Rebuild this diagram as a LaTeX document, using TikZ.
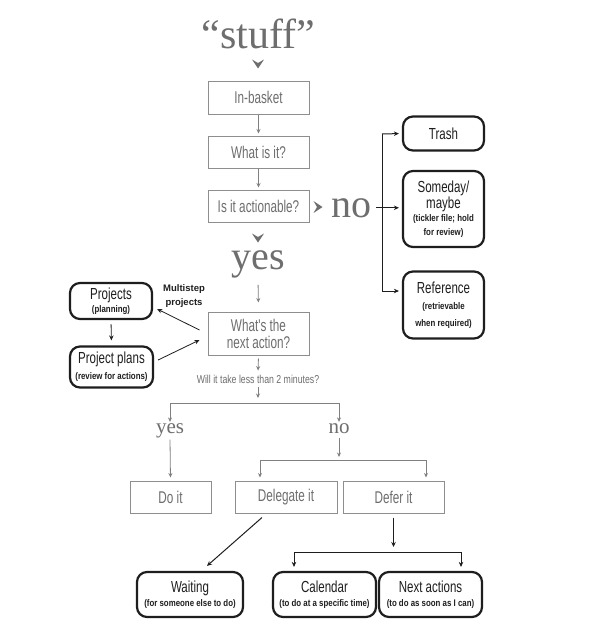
\documentclass[tikz,border=0pt]{standalone}
\usepackage{fontspec}
\setmainfont{Liberation Serif}
\newfontfamily\condf{Liberation Sans}[FakeStretch=0.69]
\newfontfamily\condr{Liberation Sans}[FakeStretch=0.72]
\newfontfamily\condb{Liberation Sans}[FakeStretch=0.82]
\newfontfamily\condw{Liberation Sans}[FakeStretch=0.76]
\newfontfamily\plainsans{Liberation Sans}
\usetikzlibrary{arrows.meta}
\definecolor{txtgray}{HTML}{6E6E6E}
\definecolor{boxgray}{HTML}{8E8E8E}
\definecolor{lngray}{HTML}{808080}
\definecolor{dark}{HTML}{1E1E1E}
\newcommand\subt[1]{{\condb\bfseries\fontsize{9.6}{10}\selectfont #1}}
\tikzset{
  gbox/.style={draw=boxgray, line width=1pt, text=txtgray, font=\condf\fontsize{17}{16}\selectfont, inner sep=0pt, align=center},
  rbox/.style={draw=dark, line width=2.2pt, rounded corners=10pt, text=dark, font=\condr\fontsize{16}{13}\selectfont, inner sep=0pt, align=center},
  garrow/.style={draw=lngray, line width=0.8pt, -{Stealth[length=4.5pt,width=4pt]}},
  gline/.style={draw=lngray, line width=0.8pt},
  barrow/.style={draw=dark, line width=1pt, -{Stealth[length=5pt,width=4.5pt]}},
  bline/.style={draw=dark, line width=1pt},
  bigserif/.style={text=txtgray, font=\fontsize{40}{40}\selectfont, inner sep=0pt},
  midserif/.style={text=txtgray, font=\fontsize{21}{21}\selectfont, inner sep=1pt},
  chevd/.pic={\fill[txtgray] (-6,-4.5) -- (0,-1) -- (6,-4.5) -- (0,4.5) -- cycle;},
  chevr/.pic={\fill[txtgray] (-4.5,-6) -- (-1,0) -- (-4.5,6) -- (4.5,0) -- cycle;},
}
\begin{document}
\begin{tikzpicture}[x=1pt,y=-1pt]
\useasboundingbox[fill=white] (0,0) rectangle (608,635);

% top serif words and chevrons
\node[bigserif, font=\fontsize{42}{42}\selectfont, anchor=base] (stuff) at (258.5,48) {“stuff”};
\pic at (258,64) {chevd};
\node[bigserif, anchor=base] (no) at (351,217) {no};
\pic at (318,207) {chevr};
\pic at (258,238) {chevd};
\node[bigserif, anchor=base] (yesbig) at (258,269) {yes};

% gray process boxes
\node[gbox, minimum width=101, minimum height=33] (inbasket) at (258.5,97.5) {In-basket};
\node[gbox, minimum width=101, minimum height=32] (what) at (258.5,152) {What is it?};
\node[gbox, minimum width=101, minimum height=32] (act) at (258.5,206) {Is it actionable?};
\node[gbox, minimum width=101, minimum height=43] (next) at (258.5,333.5) {What's the\\[1pt]next action?};
\node[gbox, minimum width=81, minimum height=32] (doit) at (170.5,497) {Do it};
\node[gbox, minimum width=102, minimum height=32] (deleg) at (286,497) {Delegate it};
\node[gbox, minimum width=101, minimum height=32] (defer) at (393.5,497) {Defer it};

% rounded outcome boxes
\node[rbox, minimum width=81, minimum height=34] (trash) at (443.5,133.5) {Trash};
\node[rbox, minimum width=81, minimum height=76] (someday) at (443.5,209) {Someday/\\maybe\\\subt{(tickler file; hold}\\[1pt]\subt{for review)}};
\node[rbox, minimum width=81, minimum height=67] (reference) at (443.5,305) {Reference\\[3pt]\subt{(retrievable}\\[4pt]\subt{when required)}};
\node[rbox, minimum width=82, minimum height=36] (projects) at (111,301) {Projects\\\subt{(planning)}};
\node[rbox, minimum width=83, minimum height=41] (plans) at (111.5,367) {Project plans\\[3pt]\subt{(review for actions)}};
\node[rbox, minimum width=106, minimum height=45] (waiting) at (190,594.5) {Waiting\\[1pt]\subt{(for someone else to do)}};
\node[rbox, minimum width=103, minimum height=45] (calendar) at (324.5,594.5) {Calendar\\[1pt]\subt{(to do at a specific time)}};
\node[rbox, minimum width=103, minimum height=45] (nextact) at (430.5,594.5) {Next actions\\[1pt]\subt{(to do as soon as I can)}};

% small texts
\node[text=dark, font=\plainsans\bfseries\fontsize{9.5}{14}\selectfont, align=center, inner sep=0pt] (multi) at (184,296) {Multistep\\projects};
\node[text=txtgray, font=\condw\fontsize{11.5}{13}\selectfont, inner sep=1pt] (will) at (258,379) {Will it take less than 2 minutes?};
\node[midserif, anchor=base] (syes) at (170,433) {yes};
\node[midserif, anchor=base] (sno) at (339,433) {no};

% coordinates for branch lines
\coordinate (s1) at (258,403);
\coordinate (s1l) at (170,403);
\coordinate (s1r) at (339,403);
\coordinate (s2) at (339,460);
\coordinate (s2l) at (260,460);
\coordinate (s2r) at (426,460);
\coordinate (s3) at (393.5,552);
\coordinate (s3l) at (294,552);
\coordinate (s3r) at (461,552);
\coordinate (nbt) at (382,134);
\coordinate (nbb) at (382,291);

% main spine
\draw[garrow, shorten >=2pt] (inbasket) -- (what);
\draw[garrow, shorten >=2pt] (what) -- (act);
\draw[garrow, shorten <=7pt, shorten >=9pt] (yesbig.south) -- (next.north);
\draw[garrow, shorten <=3pt, shorten >=3pt] (next.south) -- (will.north);
\draw[garrow, shorten <=3pt, shorten >=5pt] (will.south) -- (s1);
\draw[gline] (s1l) -- (s1r);
\draw[garrow] (s1l) -- (syes.north);
\draw[garrow] (s1r) -- (sno.north);
\draw[garrow, shorten <=1pt, shorten >=3pt] (syes.south) -- (doit.north);
\draw[garrow, shorten <=4pt, shorten >=3pt] (sno.south) -- (s2);
\draw[gline] (s2l) -- (s2r);
\draw[garrow, shorten >=3pt] (s2l) -- (s2l |- deleg.north);
\draw[garrow, shorten >=3pt] (s2r) -- (s2r |- defer.north);

% no branch
\draw[barrow, shorten <=5pt, shorten >=3pt] (no.east) -- (no.east -| someday.west);
\draw[bline] (nbt) -- (nbb);
\draw[barrow, shorten >=3pt] (nbt) -- (trash.west);
\draw[barrow, shorten >=3pt] (nbb) -- (nbb -| reference.west);

% projects
\draw[barrow, line width=0.8pt, shorten <=4pt, shorten >=5pt] (projects.south) -- (plans.north);
\draw[barrow, line width=0.8pt] ([shift={(-8,-3.5)}]next.west) -- ([shift={(4,8)}]projects.east);
\draw[barrow, line width=0.8pt] ([shift={(4,-7)}]plans.east) -- ([shift={(-8,6.5)}]next.west);

% delegate / defer outcomes
\draw[barrow] ([shift={(-24,4)}]deleg.south) -- ([shift={(17,-5)}]waiting.north);
\draw[barrow, shorten <=4pt, shorten >=5pt] (defer.south) -- (s3);
\draw[bline] (s3l) -- (s3r);
\draw[barrow, shorten >=4pt] (s3l) -- (s3l |- calendar.north);
\draw[barrow, shorten >=4pt] (s3r) -- (s3r |- nextact.north);
\end{tikzpicture}
\end{document}
